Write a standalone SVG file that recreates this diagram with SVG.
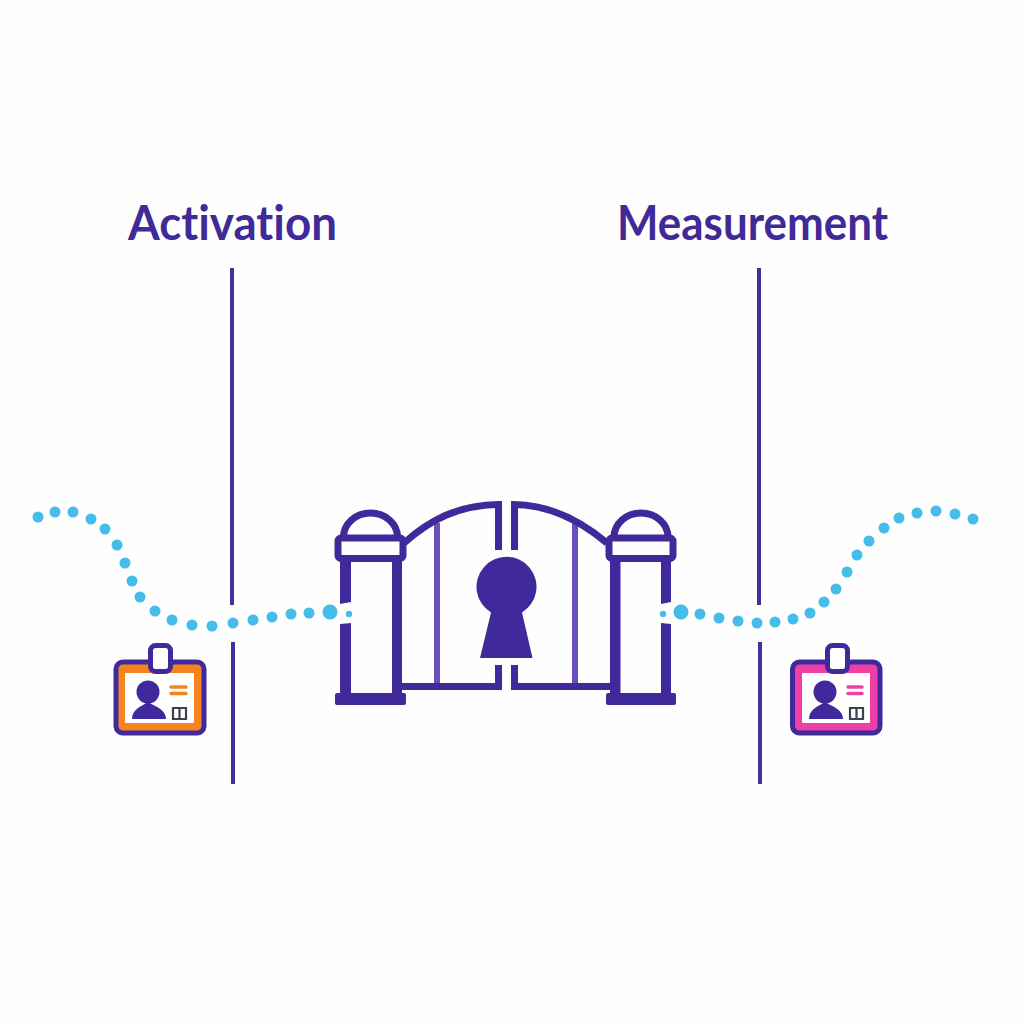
<svg xmlns="http://www.w3.org/2000/svg" width="1024" height="1024" viewBox="0 0 1024 1024">
<style>
.t{font-family:"Lato","Noto Sans",sans-serif;font-weight:700;font-size:47px;fill:#3f2a98;font-variant-ligatures:none}
.v{stroke:#43309a;stroke-width:4;fill:none}
.p{fill:#40299a}
.s{stroke:#40299a;fill:none;stroke-width:7}
.l{stroke:#6b4fbd;stroke-width:6;fill:none}
.d{fill:#45bce9}
.b{stroke:#40299a;stroke-width:5;stroke-linejoin:round}
</style>
<rect width="1024" height="1024" fill="#fefefe"/>
<text id="label-activation" class="t" x="128" y="240" textLength="209" lengthAdjust="spacingAndGlyphs">Activation</text>
<text id="label-measurement" class="t" x="617" y="240" textLength="271" lengthAdjust="spacingAndGlyphs">Measurement</text>
<g id="connectors">
<path class="v" d="M232 268V605M233 642V784M759 268V605M760 642V784"/>
<g id="path-left" class="d">
<circle cx="38" cy="517" r="5.5"/><circle cx="55" cy="512" r="5.5"/><circle cx="73" cy="512" r="5.5"/><circle cx="91" cy="519" r="5.5"/><circle cx="105" cy="529" r="5.5"/><circle cx="117" cy="545" r="5.5"/><circle cx="125" cy="563" r="5.5"/><circle cx="132" cy="581" r="5.5"/><circle cx="140" cy="597" r="5.5"/><circle cx="155" cy="611" r="5.5"/><circle cx="172" cy="620" r="5.5"/><circle cx="192" cy="625" r="5.5"/><circle cx="212" cy="626" r="5.5"/><circle cx="233" cy="623" r="5.5"/><circle cx="253" cy="620" r="5.5"/><circle cx="272" cy="617" r="5.5"/><circle cx="291" cy="614" r="5.5"/><circle cx="309" cy="613" r="5.5"/><circle cx="330" cy="612" r="7.5"/><circle cx="349" cy="614" r="3.2"/>
</g>
<g id="path-right" class="d">
<circle cx="663" cy="614" r="3.2"/><circle cx="681" cy="612" r="7.5"/><circle cx="700" cy="614" r="5.5"/><circle cx="719" cy="618" r="5.5"/><circle cx="738" cy="621" r="5.5"/><circle cx="757" cy="623" r="5.5"/><circle cx="775" cy="622" r="5.5"/><circle cx="793" cy="619" r="5.5"/><circle cx="810" cy="613" r="5.5"/><circle cx="824" cy="602" r="5.5"/><circle cx="836" cy="589" r="5.5"/><circle cx="847" cy="572" r="5.5"/><circle cx="857" cy="555" r="5.5"/><circle cx="869" cy="541" r="5.5"/><circle cx="884" cy="528" r="5.5"/><circle cx="899" cy="518" r="5.5"/><circle cx="917" cy="513" r="5.5"/><circle cx="936" cy="511" r="5.5"/><circle cx="955" cy="514" r="5.5"/><circle cx="973" cy="519" r="5.5"/>
</g>
</g>
<g id="gate">
<path class="l" d="M437 523V685M575 523V685"/>
<path class="s" d="M404 543C430 520 458 505 498.500 504.500V550M498.500 665V686.500H400M607 543C582 522 552 505 514.500 504.500V550M514.500 665V686.500H612"/>
<g id="pillar-left">
<path class="s" d="M343.500 537A27 24 0 0 1 397.500 537"/>
<rect class="s" x="338" y="538" width="65" height="20.500" rx="3"/>
<path class="p" d="M340 560H351V602L340 604ZM340 624L351 623V694H340ZM392 560H402V694H392Z"/>
<rect class="p" x="335" y="693" width="71" height="12" rx="2"/>
</g>
<g id="pillar-right">
<path class="s" d="M614 537A27 24 0 0 1 668 537"/>
<rect class="s" x="609" y="538" width="64" height="20.500" rx="3"/>
<path class="p" d="M610 560H620.500V694H610ZM661 560H671V602L661 604ZM661 623L671 624V694H661Z"/>
<rect class="p" x="606" y="693" width="70" height="12" rx="2"/>
</g>
<path id="keyhole" class="p" d="M491 612.500A30 30 0 1 1 522 612.500L532.500 658H480Z"/>
</g>
<g id="badge-left">
<rect class="b" x="116" y="662" width="88" height="71" rx="7" fill="#f5841f"/>
<rect x="125" y="673" width="69" height="50" rx="1" fill="#fff"/>
<rect class="b" x="150.500" y="645.500" width="20" height="26" rx="5" fill="#fff"/>
<circle class="p" cx="148" cy="692" r="11.500"/>
<path class="p" d="M132 719C132 709 142 706 148 702C154 706 166 709 166 719Z"/>
<path d="M171 687H186M171 693.500H186" stroke="#f5841f" stroke-width="3.500" stroke-linecap="round"/>
<path d="M173 708H186V719H173ZM179.500 708V719" fill="none" stroke="#3d4252" stroke-width="2.200"/>
</g>
<g id="badge-right">
<rect class="b" x="792.500" y="662" width="87.500" height="71" rx="7" fill="#ee3fa6"/>
<rect x="802" y="673" width="68" height="50" rx="1" fill="#fff"/>
<rect class="b" x="827.500" y="645.500" width="20" height="26" rx="5" fill="#fff"/>
<circle class="p" cx="825" cy="692" r="11.500"/>
<path class="p" d="M809 719C809 709 819 706 825 702C831 706 843 709 843 719Z"/>
<path d="M848 687H862M848 693.500H862" stroke="#ee3fa6" stroke-width="3.500" stroke-linecap="round"/>
<path d="M850 708H863V719H850ZM856.500 708V719" fill="none" stroke="#3d4252" stroke-width="2.200"/>
</g>
</svg>
